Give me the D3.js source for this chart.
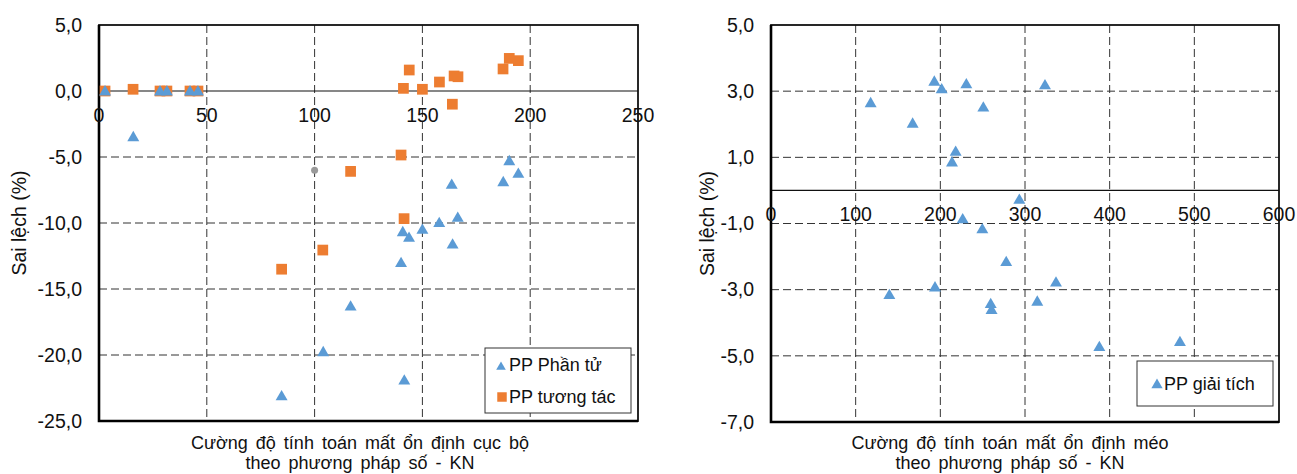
<!DOCTYPE html>
<html>
<head>
<meta charset="utf-8">
<script src="https://cdn.jsdelivr.net/npm/d3@7"></script>
<style>
  body { margin: 0; background: #fff; }
  svg { display: block; font-family: "Liberation Sans", Arial, sans-serif; }
</style>
</head>
<body>
<div id="chart"></div>
<script>
// --- Data: left chart (local buckling) ---
const phanTuX = [2.8, 28.3, 31.5, 42.2, 45.9, 15.9, 190.3, 194.5, 187.5, 163.6, 166.4, 157.8, 150, 140.9, 143.8, 164, 140.1, 116.7, 104, 141.6, 84.7];
const phanTuY = [0, 0, 0, 0, 0, -3.46, -5.28, -6.24, -6.87, -7.07, -9.57, -9.97, -10.48, -10.66, -11.09, -11.6, -13.0, -16.3, -19.75, -21.9, -23.1];
const tuongTacX = [2.8, 28.3, 31.5, 42.2, 45.9, 15.8, 143.9, 141.2, 150, 157.9, 164.7, 166.5, 163.9, 187.4, 190.3, 194.5, 140.1, 116.7, 141.5, 84.7, 103.8];
const tuongTacY = [0, 0, 0, 0, 0, 0.13, 1.59, 0.2, 0.13, 0.68, 1.14, 1.08, -1.0, 1.67, 2.47, 2.3, -4.85, -6.09, -9.67, -13.5, -12.05];
const strayX = [100];
const strayY = [-6];
const leftXTicks = [0, 50, 100, 150, 200, 250];
const leftYTicks = [5, 0, -5, -10, -15, -20, -25];
const leftYLabels = ["5,0", "0,0", "-5,0", "-10,0", "-15,0", "-20,0", "-25,0"];

// --- Data: right chart (distortional buckling) ---
const giaiTichX = [117.7, 167.3, 192.9, 201.6, 230.7, 250.8, 218.1, 213.8, 226.4, 249.6, 323.6, 293.3, 139.8, 193.7, 259.5, 260.5, 277.8, 336.6, 314.5, 387.8, 483];
const giaiTichY = [2.65, 2.03, 3.30, 3.07, 3.22, 2.52, 1.18, 0.86, -0.86, -1.16, 3.19, -0.27, -3.15, -2.92, -3.42, -3.6, -2.15, -2.77, -3.35, -4.72, -4.57];
const rightXTicks = [0, 100, 200, 300, 400, 500, 600];
const rightYTicks = [5, 3, 1, -1, -3, -5, -7];
const rightYLabels = ["5,0", "3,0", "1,0", "-1,0", "-3,0", "-5,0", "-7,0"];

const blue = "#5b9bd5";
const orange = "#ed7d31";

const svg = d3.select("#chart").append("svg")
  .attr("width", 1297)
  .attr("height", 474);

const tri = d3.symbol().type(d3.symbolTriangle).size(62);
const sq = d3.symbol().type(d3.symbolSquare).size(115);

function drawPanel(p) {
  const x = d3.scaleLinear().domain(p.xDomain).range([p.left, p.right]);
  const y = d3.scaleLinear().domain(p.yDomain).range([p.top, p.bottom]);
  const g = svg.append("g");

  // dashed grid
  g.append("g").selectAll("line")
    .data(p.yTicks.filter((t) => t !== 0 && t !== p.yDomain[0] && t !== p.yDomain[1]))
    .join("line")
    .attr("x1", p.left).attr("x2", p.right)
    .attr("y1", (d) => y(d)).attr("y2", (d) => y(d))
    .attr("stroke", "#333").attr("stroke-width", 1)
    .attr("stroke-dasharray", "8,4");
  g.append("g").selectAll("line")
    .data(p.xTicks.filter((t) => t !== p.xDomain[0] && t !== p.xDomain[1]))
    .join("line")
    .attr("x1", (d) => x(d)).attr("x2", (d) => x(d))
    .attr("y1", p.top).attr("y2", p.bottom)
    .attr("stroke", "#333").attr("stroke-width", 1)
    .attr("stroke-dasharray", "8,4");

  // zero line
  g.append("line")
    .attr("x1", p.left).attr("x2", p.right)
    .attr("y1", y(0)).attr("y2", y(0))
    .attr("stroke", "#111").attr("stroke-width", 1.2);

  // frame
  g.append("rect")
    .attr("x", p.left).attr("y", p.top)
    .attr("width", p.right - p.left).attr("height", p.bottom - p.top)
    .attr("fill", "none").attr("stroke", "#111").attr("stroke-width", 1.8);
  g.append("path")
    .attr("d", `M${p.left},${p.top}V${p.bottom}H${p.right}`)
    .attr("fill", "none").attr("stroke", "#000").attr("stroke-width", 2.6);

  // y tick labels
  g.append("g").selectAll("text")
    .data(p.yTicks)
    .join("text")
    .attr("x", p.left - 17)
    .attr("y", (d) => y(d))
    .attr("dy", "0.35em")
    .attr("text-anchor", "end")
    .attr("font-size", 19.5)
    .attr("fill", "#111")
    .text((d, i) => p.yLabels[i]);

  // x tick labels (below zero line)
  g.append("g").selectAll("text")
    .data(p.xTicks)
    .join("text")
    .attr("x", (d) => x(d))
    .attr("y", y(0) + 24)
    .attr("dy", "0.35em")
    .attr("text-anchor", "middle")
    .attr("font-size", 19.5)
    .attr("fill", "#111")
    .text((d) => d);

  // axis titles
  g.append("text")
    .attr("transform", `translate(${p.yTitleX},${(p.top + p.bottom) / 2}) rotate(-90)`)
    .attr("dy", "0.35em")
    .attr("text-anchor", "middle")
    .attr("font-size", 19.5)
    .attr("fill", "#111")
    .text("Sai lệch (%)");
  g.append("text")
    .attr("x", p.xTitleX).attr("y", 443)
    .attr("dy", "0.35em")
    .attr("text-anchor", "middle")
    .attr("font-size", 18)
    .attr("word-spacing", 3)
    .attr("fill", "#111")
    .text(p.xTitle1);
  g.append("text")
    .attr("x", p.xTitleX).attr("y", 463)
    .attr("dy", "0.35em")
    .attr("text-anchor", "middle")
    .attr("font-size", 18)
    .attr("word-spacing", 3)
    .attr("fill", "#111")
    .text("theo phương  pháp số - KN");

  return { g, x, y };
}

// --- Left panel ---
const L = drawPanel({
  left: 99, right: 638, top: 25, bottom: 421,
  xDomain: [0, 250], yDomain: [5, -25],
  xTicks: leftXTicks, yTicks: leftYTicks, yLabels: leftYLabels,
  yTitleX: 19, xTitleX: 360,
  xTitle1: "Cường độ tính toán mất ổn định cục bộ",
});

L.g.append("g").selectAll("path")
  .data(d3.zip(tuongTacX, tuongTacY))
  .join("path")
  .attr("transform", (d) => `translate(${L.x(d[0])},${L.y(d[1])})`)
  .attr("d", sq)
  .attr("fill", orange);

L.g.append("g").selectAll("path")
  .data(d3.zip(phanTuX, phanTuY))
  .join("path")
  .attr("transform", (d) => `translate(${L.x(d[0])},${L.y(d[1]) + 1})`)
  .attr("d", tri)
  .attr("fill", blue);

L.g.append("g").selectAll("circle")
  .data(d3.zip(strayX, strayY))
  .join("circle")
  .attr("cx", (d) => L.x(d[0]))
  .attr("cy", (d) => L.y(d[1]))
  .attr("r", 3.5)
  .attr("fill", "#9a9a9a");

// left legend
const lg = L.g.append("g");
lg.append("rect")
  .attr("x", 485).attr("y", 348).attr("width", 146).attr("height", 65)
  .attr("fill", "#fff").attr("stroke", "#333").attr("stroke-width", 1);
lg.append("path")
  .attr("transform", "translate(501,367)")
  .attr("d", d3.symbol().type(d3.symbolTriangle).size(40))
  .attr("fill", blue);
lg.append("text")
  .attr("x", 509).attr("y", 365).attr("dy", "0.35em")
  .attr("font-size", 18).attr("fill", "#111")
  .text("PP Phần tử");
lg.append("path")
  .attr("transform", "translate(502,397)")
  .attr("d", d3.symbol().type(d3.symbolSquare).size(90))
  .attr("fill", orange);
lg.append("text")
  .attr("x", 509).attr("y", 397).attr("dy", "0.35em")
  .attr("font-size", 18).attr("fill", "#111")
  .text("PP tương tác");

// --- Right panel ---
const R = drawPanel({
  left: 771, right: 1279, top: 25, bottom: 422,
  xDomain: [0, 600], yDomain: [5, -7],
  xTicks: rightXTicks, yTicks: rightYTicks, yLabels: rightYLabels,
  yTitleX: 707, xTitleX: 1010,
  xTitle1: "Cường độ tính toán mất ổn định méo",
});

R.g.append("g").selectAll("path")
  .data(d3.zip(giaiTichX, giaiTichY))
  .join("path")
  .attr("transform", (d) => `translate(${R.x(d[0])},${R.y(d[1]) + 1})`)
  .attr("d", tri)
  .attr("fill", blue);

// right legend
const rg = R.g.append("g");
rg.append("rect")
  .attr("x", 1137).attr("y", 361).attr("width", 136).attr("height", 45)
  .attr("fill", "#fff").attr("stroke", "#333").attr("stroke-width", 1);
rg.append("path")
  .attr("transform", "translate(1157,385)")
  .attr("d", d3.symbol().type(d3.symbolTriangle).size(55))
  .attr("fill", blue);
rg.append("text")
  .attr("x", 1164).attr("y", 384).attr("dy", "0.35em")
  .attr("font-size", 18).attr("fill", "#111")
  .text("PP giải tích");
</script>
</body>
</html>
